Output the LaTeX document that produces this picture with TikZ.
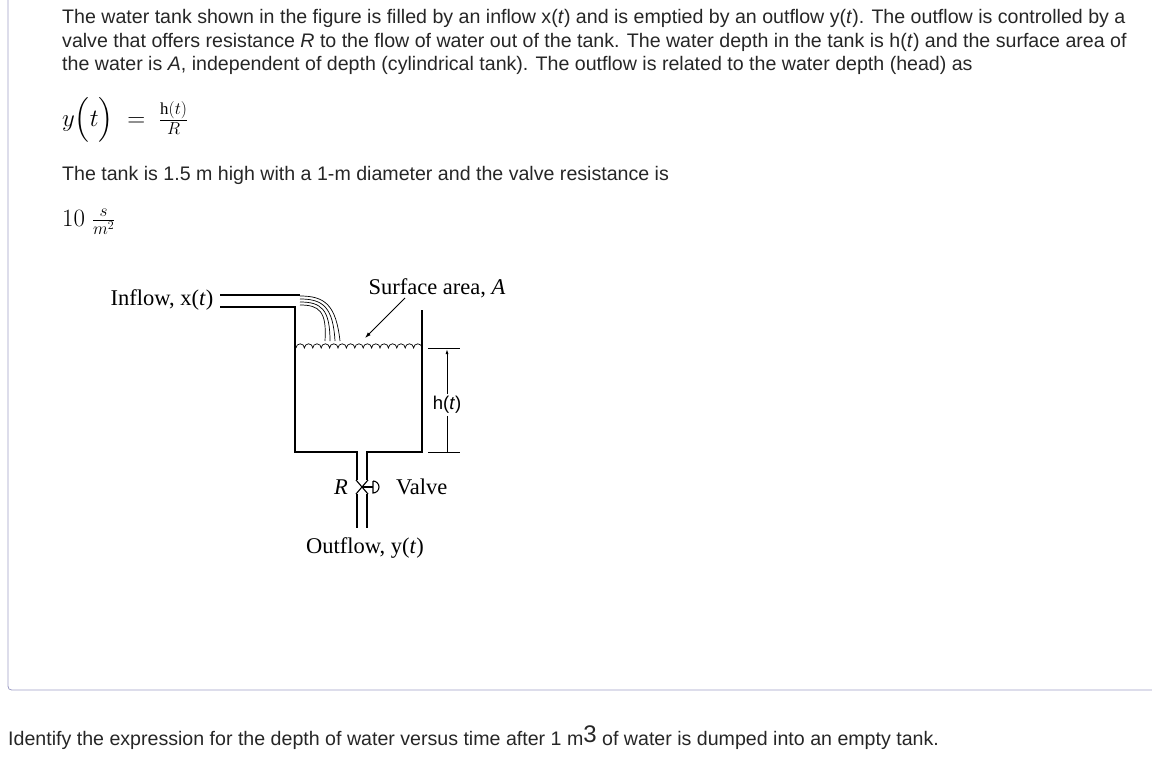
\documentclass[tikz,border=0pt]{standalone}
\usepackage{fontspec}
\usepackage{amsmath}
\setmainfont{Liberation Serif}
\newfontfamily\bodyf{Liberation Sans}
\usetikzlibrary{arrows.meta}
\begin{document}
\begin{tikzpicture}[x=1pt,y=-1pt,
 body/.style={anchor=west,inner sep=0,font=\bodyf\fontsize{19.6}{22}\selectfont,text=black!85},
 lab/.style={inner sep=0,font=\fontsize{22.5}{26}\selectfont},
 ln/.style={line width=1.3pt}]
\useasboundingbox (0,0) rectangle (1152,776);
\draw[color=blue!25!gray!60,line width=0.8pt] (8,0) -- (8,682) .. controls (8,690) .. (16,690) -- (1152,690);
\node[body] (l1) at (62,18) {The water tank shown in the figure is filled by an inflow x(\textit{t}) and is emptied by an outflow y(\textit{t}). The outflow is controlled by a};
\node[body] (l2) at (62,42) {valve that offers resistance \textit{R} to the flow of water out of the tank. The water depth in the tank is h(\textit{t}) and the surface area of};
\node[body] (l3) at (62,65) {the water is \textit{A}, independent of depth (cylindrical tank). The outflow is related to the water depth (head) as};
\node[anchor=west,inner sep=0,font=\fontsize{24}{28}\selectfont] (eq) at (62,120) {$y\Bigl(t\Bigr)\;=\;\frac{\mathrm{h}(t)}{R}$};
\node[body] (l4) at (62,175) {The tank is 1.5 m high with a 1-m diameter and the valve resistance is};
\node[anchor=west,inner sep=0,font=\fontsize{25}{28}\selectfont] (ten) at (62,222) {$10\;\frac{s}{m^2}$};
\node[body] (l5) at (8,738) {Identify the expression for the depth of water versus time after 1 m\raisebox{3pt}{\fontsize{24}{24}\selectfont 3} of water is dumped into an empty tank.};
% figure
\draw[ln] (220,295) -- (300,295);
\draw[ln] (220,307) -- (295,307) -- (295,452) -- (357,452) -- (357,480);
\draw[ln] (422,310) -- (422,452) -- (367,452) -- (367,480);
\draw[ln] (357,494) -- (357,528);
\draw[ln] (367,494) -- (367,528);
% valve
\draw[line width=1.1pt] (356,480) -- (368,494) (356,494) -- (368,480);
\draw[line width=1.1pt] (362,487) -- (373,487);
\draw[line width=1.1pt] (373,481) -- (373,493) arc[start angle=90,end angle=-90,radius=6];
% water surface
\draw[line width=0.7pt] (296,348) \foreach \i in {0,...,14} { arc[start angle=180,end angle=360,radius=4.2] };
% streams
\foreach \k in {0,1,2,3}{
 \draw[line width=0.7pt] (300,296+3*\k) .. controls (325-2*\k,296+3*\k) and (336-3*\k,305+2*\k) .. (340-5*\k,341);
}
% arrow
\coordinate (ast) at (405,298); \coordinate (aen) at (365,338);
\draw[line width=0.9pt,-{Latex[length=6pt,width=4pt]}] (ast) -- (aen);
\node[lab] (surf) at (437,288) {Surface area, \textit{A}};
\node[lab] (inf) at (162,300) {Inflow, x(\textit{t})};
\node[lab] (out) at (365,548) {Outflow, y(\textit{t})};
\node[lab,anchor=east] (R) at (348,487) {\textit{R}};
\node[lab,anchor=west] (val) at (396,487) {Valve};
% dimension
\draw[line width=0.9pt] (428,348) -- (460,348) (428,452) -- (460,452);
\node[inner sep=2pt,font=\bodyf\fontsize{18.5}{20}\selectfont] (h) at (447,405) {h(\textit{t})};
\draw[line width=0.9pt,-{Latex[length=5pt,width=3pt]}] (h.north) -- (447,349);
\draw[line width=0.9pt] (h.south) -- (447,452);
\end{tikzpicture}
\end{document}
